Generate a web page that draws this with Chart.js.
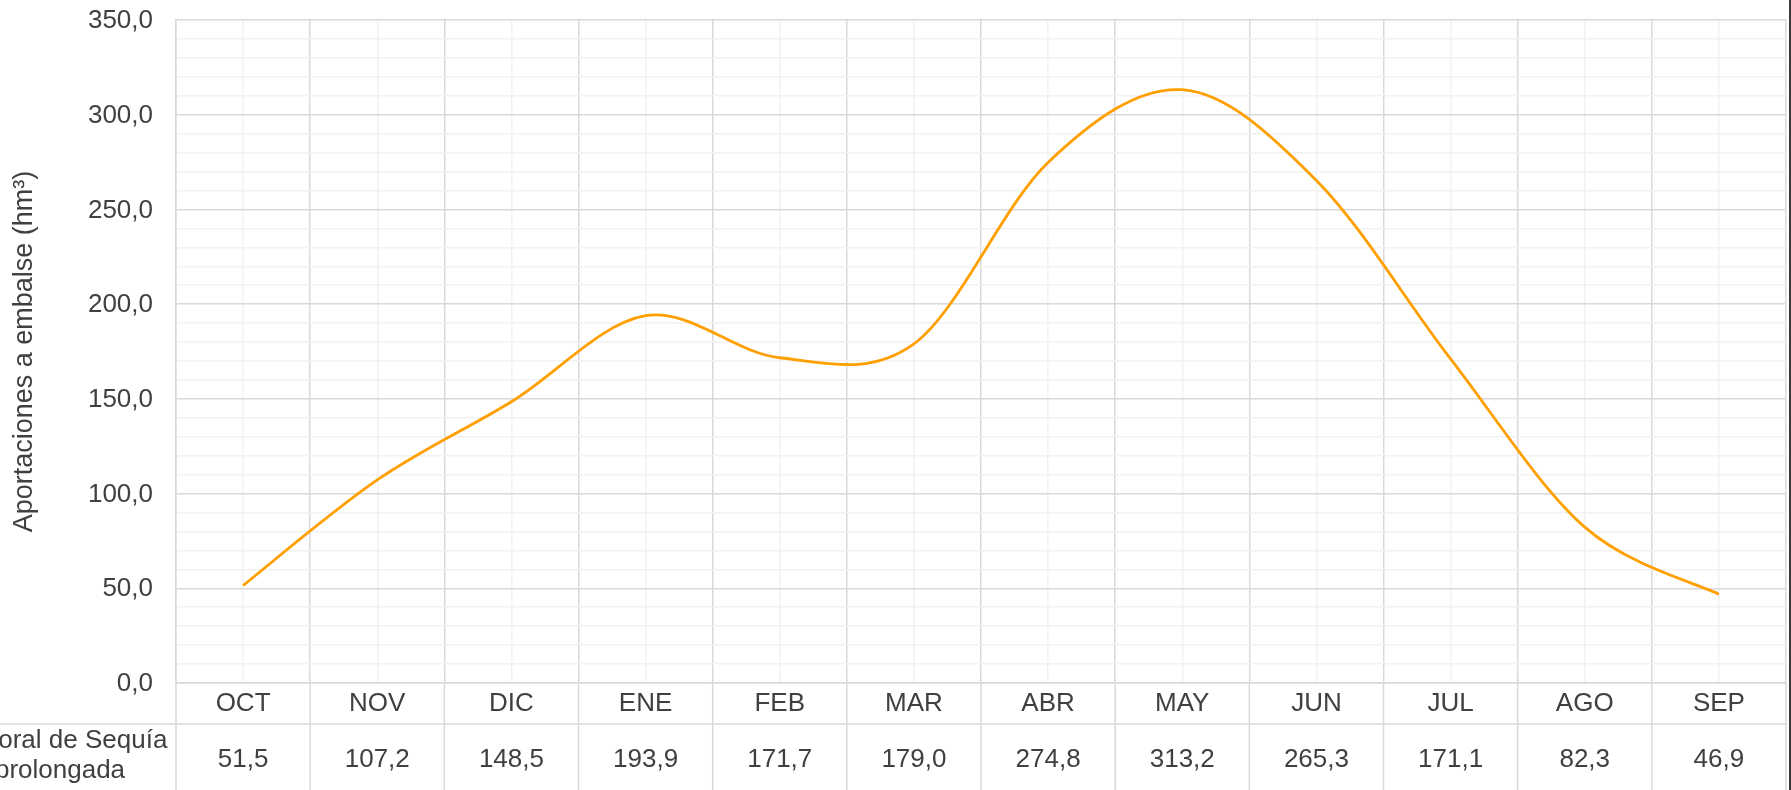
<!DOCTYPE html>
<html>
<head>
<meta charset="utf-8">
<script src="https://cdn.jsdelivr.net/npm/chart.js@4.4.1/dist/chart.umd.min.js"></script>
<style>
  html, body { margin: 0; padding: 0; background: #fff; }
  canvas { display: block; }
</style>
</head>
<body>
<canvas id="chart" width="1791" height="790"></canvas>
<script>
// Aportaciones mensuales a embalse - escenario de sequía prolongada
const months = ['OCT', 'NOV', 'DIC', 'ENE', 'FEB', 'MAR', 'ABR', 'MAY', 'JUN', 'JUL', 'AGO', 'SEP'];
const aportaciones = [51.5, 107.2, 148.5, 193.9, 171.7, 179.0, 274.8, 313.2, 265.3, 171.1, 82.3, 46.9];
const seriesName = ['Temporal de Sequía', 'prolongada'];
const yAxisTitle = 'Aportaciones a embalse (hm³)';
const yMin = 0, yMax = 350, yMajor = 50, yMinor = 10;

const TEXT = '#404040';
const MAJOR = '#d9d9d9';
const MINOR = '#f2f2f2';
const FONT = "'Liberation Sans', Arial, sans-serif";

const fmt = v => v.toFixed(1).replace('.', ',');

// Excel smooths with a uniform Catmull-Rom spline, not Chart.js's distance-weighted one
const excelSmoothing = {
    id: 'excelSmoothing',
    beforeDatasetsDraw(chart) {
        chart.getSortedVisibleDatasetMetas().forEach(meta => {
            const line = meta.dataset;
            line.updateControlPoints(chart.chartArea, meta.indexAxis || 'x');
            const pts = meta.data;
            pts.forEach((p, i) => {
                const prev = pts[Math.max(i - 1, 0)];
                const next = pts[Math.min(i + 1, pts.length - 1)];
                const dx = (next.x - prev.x) / 6;
                const dy = (next.y - prev.y) / 6;
                p.cp1x = p.x - dx; p.cp1y = p.y - dy;
                p.cp2x = p.x + dx; p.cp2y = p.y + dy;
            });
            line._path = undefined;
        });
    }
};

// Excel-like data table under the x axis
const dataTable = {
    id: 'dataTable',
    afterDraw(chart) {
        const ctx = chart.ctx;
        const x = chart.scales.x;
        const area = chart.chartArea;
        const rowTop = area.bottom + 41;
        const bottom = chart.height;
        const half = (x.getPixelForTick(1) - x.getPixelForTick(0)) / 2;

        ctx.save();
        ctx.strokeStyle = MAJOR;
        ctx.lineWidth = 1.5;
        ctx.beginPath();
        ctx.moveTo(0, rowTop);
        ctx.lineTo(area.right, rowTop);
        for (let i = 0; i <= months.length; i++) {
            const px = i < months.length ? x.getPixelForTick(i) - half : x.getPixelForTick(i - 1) + half;
            ctx.moveTo(px, area.bottom);
            ctx.lineTo(px, bottom);
        }
        ctx.stroke();

        ctx.fillStyle = TEXT;
        ctx.font = '26px ' + FONT;
        ctx.textAlign = 'center';
        ctx.textBaseline = 'alphabetic';
        aportaciones.forEach((v, i) => ctx.fillText(fmt(v), x.getPixelForTick(i), 767));
        ctx.fillText(seriesName[0], 51, 748);
        ctx.fillText(seriesName[1], 60, 778);

        ctx.fillStyle = '#3a3a3a';
        ctx.fillRect(chart.width - 2, 0, 2, chart.height);
        ctx.restore();
    }
};

new Chart(document.getElementById('chart').getContext('2d'), {
    type: 'line',
    data: {
        labels: months,
        datasets: [{
            label: seriesName.join(' '),
            data: aportaciones,
            borderColor: '#ff9f00',
            backgroundColor: '#ff9f00',
            borderWidth: 2.8,
            pointRadius: 0,
            tension: 0.4,
            fill: false
        }]
    },
    options: {
        responsive: false,
        animation: false,
        layout: { padding: { top: 20, right: 5, bottom: 66, left: 0 } },
        plugins: {
            legend: { display: false },
            tooltip: { enabled: false }
        },
        scales: {
            x: {
                offset: true,
                grid: { offset: true, color: MAJOR, lineWidth: 1.5, drawTicks: false },
                border: { color: MAJOR, width: 1.5 },
                ticks: { color: TEXT, font: { family: FONT, size: 26 }, padding: 5, maxRotation: 0 },
                afterFit: s => { s.height = 41; }
            },
            x2: {
                type: 'category',
                labels: months,
                position: 'top',
                offset: true,
                grid: { offset: false, color: MINOR, lineWidth: 1.5, drawTicks: false },
                border: { display: false },
                ticks: { display: false },
                afterFit: s => { s.height = 0; }
            },
            y: {
                min: yMin,
                max: yMax,
                grid: {
                    color: c => (c.tick && c.tick.value % yMajor === 0) ? MAJOR : MINOR,
                    lineWidth: 1.5,
                    drawTicks: false
                },
                border: { color: MAJOR, width: 1.5 },
                ticks: {
                    stepSize: yMinor,
                    autoSkip: false,
                    color: TEXT,
                    font: { family: FONT, size: 26 },
                    padding: 23,
                    labelOffset: 1,
                    callback: v => v % yMajor === 0 ? fmt(v) : ''
                },
                title: {
                    display: true,
                    text: yAxisTitle,
                    color: TEXT,
                    font: { family: FONT, size: 27 },
                    padding: { top: 8, bottom: 0 }
                },
                afterFit: s => {
                    s.width = 176;
                    s.paddingTop = 0;
                    s.paddingBottom = 0;
                }
            }
        }
    },
    plugins: [excelSmoothing, dataTable]
});
</script>
</body>
</html>
